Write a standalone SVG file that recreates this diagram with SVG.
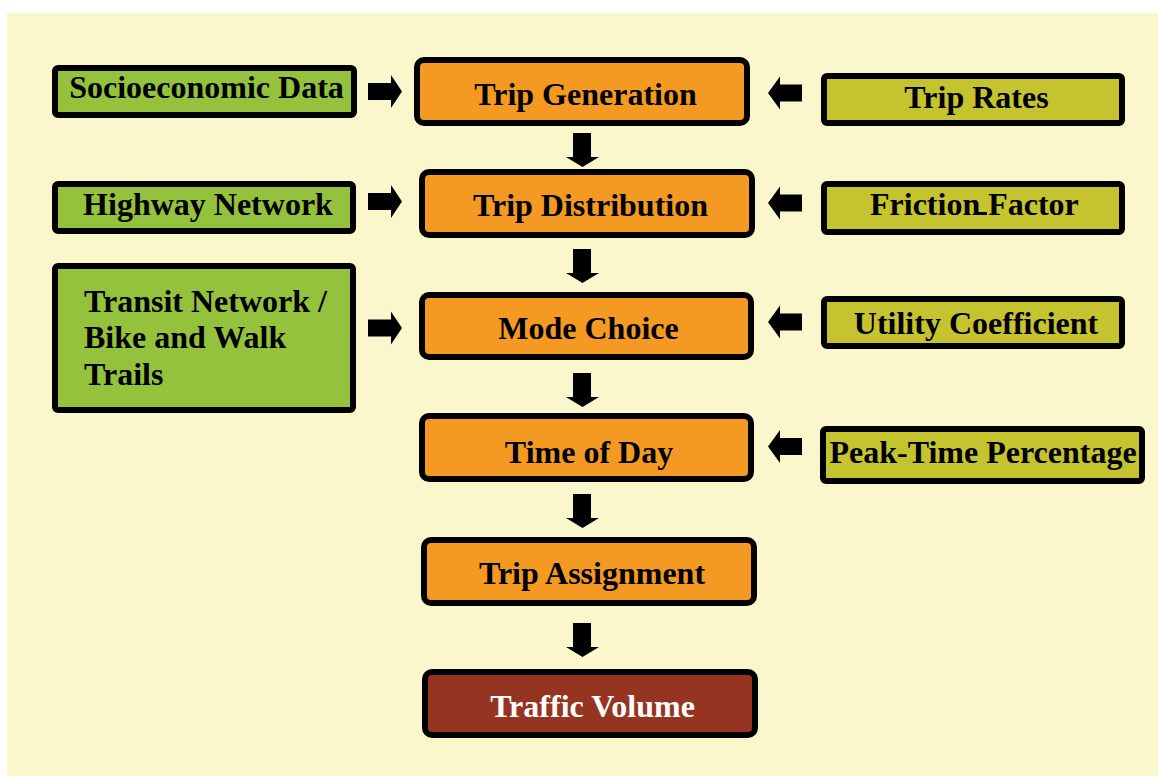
<svg xmlns="http://www.w3.org/2000/svg" width="1158" height="776" viewBox="0 0 1158 776">
<style>
.box{stroke:#000;stroke-width:6}
.main{fill:#F49A22}
.green{fill:#95C23D}
.olive{fill:#C5C42F}
.final{fill:#953421}
.t{font-family:'Liberation Serif',serif;font-weight:700;font-size:32px;fill:#000}
.c{text-anchor:middle}
.w{fill:#fff}
.arr{fill:#000}
</style>
<defs>
<path id="arrR" d="M0,-8.5 H23 V-16.5 L34,0 L23,16.5 V8.5 H0 Z"/>
<path id="arrL" d="M34,-8.5 H12 V-16.5 L0,0 L12,16.5 V8.5 H34 Z"/>
<path id="arrD" d="M7,0 H25 V24 H33 L16.5,34 L0,24 H7 Z"/>
</defs>
<rect x="7" y="13" width="1151" height="763" fill="#FBF7CD"/>
<g id="connectors" class="arr">
<use href="#arrR" x="368" y="91.5"/>
<use href="#arrR" x="368" y="201.5"/>
<use href="#arrR" x="368" y="328"/>
<use href="#arrL" x="768" y="93"/>
<use href="#arrL" x="768" y="203"/>
<use href="#arrL" x="768" y="322"/>
<use href="#arrL" x="768" y="446.5"/>
<use href="#arrD" x="566" y="133"/>
<use href="#arrD" x="566" y="249"/>
<use href="#arrD" x="566" y="373"/>
<use href="#arrD" x="566" y="494"/>
<use href="#arrD" x="566" y="623"/>
</g>
<g id="socioeconomic">
<rect class="box green" x="55" y="68" width="299" height="47" rx="3"/>
<text class="t c" x="206.5" y="98">Socioeconomic Data</text>
</g>
<g id="highway">
<rect class="box green" x="55" y="184" width="298" height="47" rx="3"/>
<text class="t c" x="208" y="215">Highway Network</text>
</g>
<g id="transit">
<rect class="box green" x="55" y="266" width="298" height="144" rx="3"/>
<text class="t" x="84" y="312">Transit Network /</text>
<text class="t" x="84" y="348">Bike and Walk</text>
<text class="t" x="84" y="385">Trails</text>
</g>
<g id="trip-generation">
<rect class="box main" x="417" y="60" width="330" height="63" rx="7"/>
<text class="t c" x="585.5" y="105">Trip Generation</text>
</g>
<g id="trip-distribution">
<rect class="box main" x="422" y="172" width="330" height="63" rx="7"/>
<text class="t c" x="590.5" y="216">Trip Distribution</text>
</g>
<g id="mode-choice">
<rect class="box main" x="422" y="295" width="329" height="62" rx="7"/>
<text class="t c" x="588.5" y="339">Mode Choice</text>
</g>
<g id="time-of-day">
<rect class="box main" x="422" y="416" width="329" height="63" rx="7"/>
<text class="t c" x="589" y="463">Time of Day</text>
</g>
<g id="trip-assignment">
<rect class="box main" x="424" y="540" width="330" height="63" rx="7"/>
<text class="t c" x="592" y="584">Trip Assignment</text>
</g>
<g id="traffic-volume">
<rect class="box final" x="425" y="672" width="330" height="63" rx="7"/>
<text class="t c w" x="592.5" y="717">Traffic Volume</text>
</g>
<g id="trip-rates">
<rect class="box olive" x="824" y="76" width="298" height="47" rx="3"/>
<text class="t c" x="976.5" y="108">Trip Rates</text>
</g>
<g id="friction-factor">
<rect class="box olive" x="824" y="184" width="298" height="48" rx="3"/>
<text class="t" x="870" y="215">Friction Factor</text>
<rect x="977" y="212" width="10" height="3" fill="#000"/>
</g>
<g id="utility-coefficient">
<rect class="box olive" x="824" y="299" width="298" height="47" rx="3"/>
<text class="t c" x="976" y="334">Utility Coefficient</text>
</g>
<g id="peak-time">
<rect class="box olive" x="823" y="429" width="319" height="52" rx="3"/>
<text class="t c" x="983" y="463">Peak-Time Percentage</text>
</g>
</svg>
